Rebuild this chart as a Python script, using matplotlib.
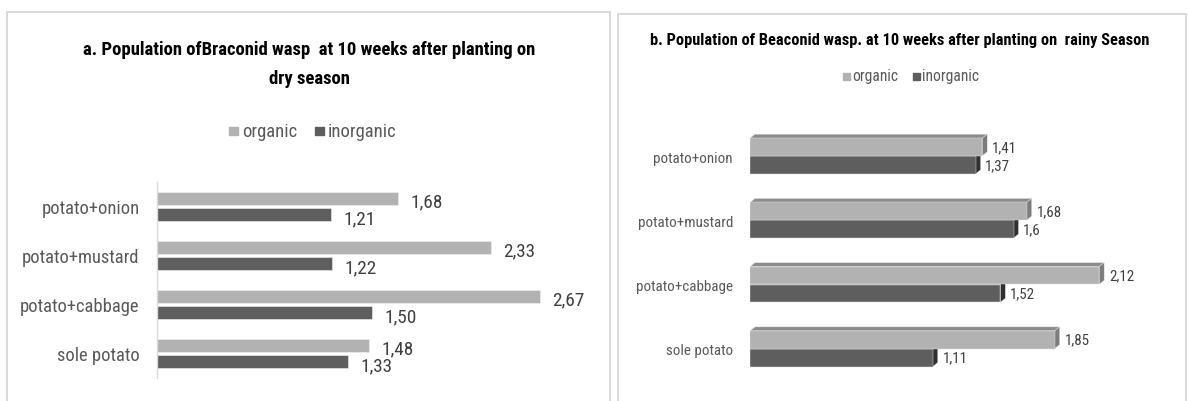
import matplotlib
matplotlib.use("Agg")
import matplotlib.pyplot as plt
from matplotlib import font_manager
from matplotlib.patches import Polygon, Rectangle
from matplotlib.lines import Line2D

# ---------------- data ----------------
categories = ["sole potato", "potato+cabbage", "potato+mustard", "potato+onion"]
dry_organic = [1.48, 2.67, 2.33, 1.68]
dry_inorganic = [1.33, 1.50, 1.22, 1.21]
rainy_organic = [1.85, 2.12, 1.68, 1.41]
rainy_inorganic = [1.11, 1.52, 1.60, 1.37]
series_names = ["organic", "inorganic"]
title_a = ["a. Population ofBraconid wasp  at 10 weeks after planting on", "dry season"]
title_b = "b. Population of Beaconid wasp. at 10 weeks after planting on  rainy Season"

# ---------------- fonts ----------------
def pick(names):
    for n in names:
        try:
            font_manager.findfont(font_manager.FontProperties(family=n), fallback_to_default=False)
            return n
        except Exception:
            pass
    return "DejaVu Sans"

FONT = pick(["Liberation Sans Narrow", "Roboto Condensed", "Open Sans Condensed", "Liberation Sans"])
plt.rcParams["font.family"] = [FONT, "DejaVu Sans"]

W, H = 1188, 402
fig = plt.figure(figsize=(W / 100, H / 100), dpi=100)
fig.patch.set_facecolor("white")
renderer = fig.canvas.get_renderer()

C_ORG = "#b2b2b2"
C_INO = "#5e5e5e"
C_ORG_TOP = "#8c8c8c"
C_ORG_SIDE = "#7c7c7c"
C_INO_SIDE = "#303030"
C_BORDER = "#d9d9d9"
C_LAB = "#595959"
C_VAL = "#404040"


def fx(x):
    return x / W


def fy(y):
    return 1 - y / H


def add_ax(x0, y0, x1, y1):
    return fig.add_axes([fx(x0), fy(y1), fx(x1 - x0), (y1 - y0) / H])


def fit(t, target):
    w = t.get_window_extent(renderer).width
    t.set_fontsize(t.get_fontsize() * target / w)
    return t.get_fontsize()


def measure(text, size, weight="normal"):
    t = fig.text(0, 0, text, fontsize=size, fontweight=weight)
    w = t.get_window_extent(renderer).width
    t.remove()
    return w


def size_for(text, target, weight="normal"):
    return 10 * target / measure(text, 10, weight)


# ---------------- panel borders ----------------
for (xs, ys) in [([7.3, 7.3], [H + 5, 12.7]), ([7.3, 610], [12.7, 12.7]), ([610, 610], [12.7, H + 5]),
                 ([617.7, 617.7], [H + 5, 14.7]), ([617.7, W - 2], [14.7, 14.7]), ([W - 2, W - 2], [14.7, H + 5])]:
    fig.add_artist(Line2D([fx(x) for x in xs], [fy(y) for y in ys], color=C_BORDER, lw=1.4,
                          transform=fig.transFigure))

ypos = list(range(len(categories)))

# ---------------- panel a ----------------
axa = add_ax(157.3, 183, 157.3 + 143.2 * 3, 379)
off_a, h_a = 0.165, 0.25
axa.barh([p + off_a for p in ypos], dry_organic, height=h_a, color=C_ORG, edgecolor="#f2f2f2", lw=0.4)
axa.barh([p - off_a for p in ypos], dry_inorganic, height=h_a, color=C_INO, edgecolor="#f2f2f2", lw=0.4)
axa.set_xlim(0, 3)
axa.set_ylim(-0.5, len(categories) - 0.5)
for s in ["top", "right", "bottom"]:
    axa.spines[s].set_visible(False)
axa.spines["left"].set_color(C_BORDER)
axa.spines["left"].set_linewidth(1.0)
axa.set_xticks([])
axa.set_yticks(ypos)
lab_a = size_for("potato+onion", 97.6)
axa.set_yticklabels(categories, fontsize=lab_a, color=C_LAB)
axa.tick_params(axis="y", length=0, pad=17.8 * 0.72)
axa.patch.set_alpha(0)

val_a = size_for("1,50", 32)
for p, v in zip(ypos, dry_organic):
    axa.annotate(f"{v:.2f}".replace(".", ","), (v, p + off_a), xytext=(9.0, -2.0), textcoords="offset points",
                 va="center", ha="left", fontsize=val_a, color=C_VAL)
for p, v in zip(ypos, dry_inorganic):
    axa.annotate(f"{v:.2f}".replace(".", ","), (v, p - off_a), xytext=(9.0, -2.5), textcoords="offset points",
                 va="center", ha="left", fontsize=val_a, color=C_VAL)

ta_size = size_for(title_a[0], 454, "bold")
fig.text(fx(309), fy(55), title_a[0], ha="center", va="baseline", fontsize=ta_size, fontweight="bold", color="black")
fig.text(fx(309), fy(84), title_a[1], ha="center", va="baseline", fontsize=ta_size, fontweight="bold", color="black")

leg_a = size_for("organic", 55)
fig.add_artist(Rectangle((fx(229), fy(136)), fx(8.5), 8.5 / H, color=C_ORG, transform=fig.transFigure))
fig.text(fx(241.7), fy(131.7), "organic", ha="left", va="center", fontsize=leg_a, color=C_LAB)
fig.add_artist(Rectangle((fx(315), fy(136)), fx(8.5), 8.5 / H, color=C_INO, transform=fig.transFigure))
fig.text(fx(328), fy(131.7), "inorganic", ha="left", va="center", fontsize=leg_a, color=C_LAB)

# ---------------- panel b (3D look) ----------------
axb = add_ax(750, 124.9, 750 + 164.7 * 2.5, 381.8)
off_b, h_b = 0.14, 0.275
axb.set_xlim(0, 2.5)
axb.set_ylim(-0.5, len(categories) - 0.5)
dx = 5.0 / 164.7
dy = 4.0 / 64.23


def bar3d(ax, yc, v, front, side, top=None):
    b, t = yc - h_b / 2, yc + h_b / 2
    if top is not None:
        ax.add_patch(Polygon([(0, t), (dx, t + dy), (v + dx, t + dy), (v, t)], closed=True,
                             facecolor=top, edgecolor="#e6e6e6", lw=0.3))
    ax.add_patch(Polygon([(v, b), (v, t), (v + dx, t + dy), (v + dx, b + dy)], closed=True,
                         facecolor=side, edgecolor="#e6e6e6", lw=0.3))


for p, vo, vi in zip(ypos, rainy_organic, rainy_inorganic):
    bar3d(axb, p - off_b, vi, C_INO, C_INO_SIDE, top=C_INO)
axb.barh([p - off_b for p in ypos], rainy_inorganic, height=h_b, color=C_INO, edgecolor="#e6e6e6", lw=0.3)
for p, vo in zip(ypos, rainy_organic):
    bar3d(axb, p + off_b, vo, C_ORG, C_ORG_SIDE, top=C_ORG_TOP)
axb.barh([p + off_b for p in ypos], rainy_organic, height=h_b, color=C_ORG, edgecolor="#e6e6e6", lw=0.3)

for s in ["top", "right", "bottom", "left"]:
    axb.spines[s].set_visible(False)
axb.set_xticks([])
axb.set_yticks(ypos)
lab_b = size_for("potato+mustard", 95)
axb.set_yticklabels(categories, fontsize=lab_b, color=C_LAB)
axb.tick_params(axis="y", length=0, pad=17 * 0.72)
axb.patch.set_alpha(0)

val_b = size_for("1,41", 25)
for p, v in zip(ypos, rainy_organic):
    axb.annotate(f"{v:g}".replace(".", ","), (v, p + off_b), xytext=(7.0, 0), textcoords="offset points",
                 va="center", ha="left", fontsize=val_b, color=C_VAL)
for p, v in zip(ypos, rainy_inorganic):
    axb.annotate(f"{v:g}".replace(".", ","), (v, p - off_b), xytext=(7.0, 0), textcoords="offset points",
                 va="center", ha="left", fontsize=val_b, color=C_VAL)

tb_size = size_for(title_b, 498, "bold")
fig.text(fx(899.5), fy(45), title_b, ha="center", va="baseline", fontsize=tb_size, fontweight="bold", color="black")

leg_b = size_for("organic", 46)
fig.add_artist(Rectangle((fx(843), fy(80.5)), fx(7), 7 / H, color=C_ORG, transform=fig.transFigure))
fig.text(fx(852), fy(77), "organic", ha="left", va="center", fontsize=leg_b, color=C_LAB)
fig.add_artist(Rectangle((fx(913), fy(80.5)), fx(7), 7 / H, color=C_INO, transform=fig.transFigure))
fig.text(fx(922), fy(77), "inorganic", ha="left", va="center", fontsize=leg_b, color=C_LAB)

fig.savefig("out.png", dpi=100, facecolor="white")
